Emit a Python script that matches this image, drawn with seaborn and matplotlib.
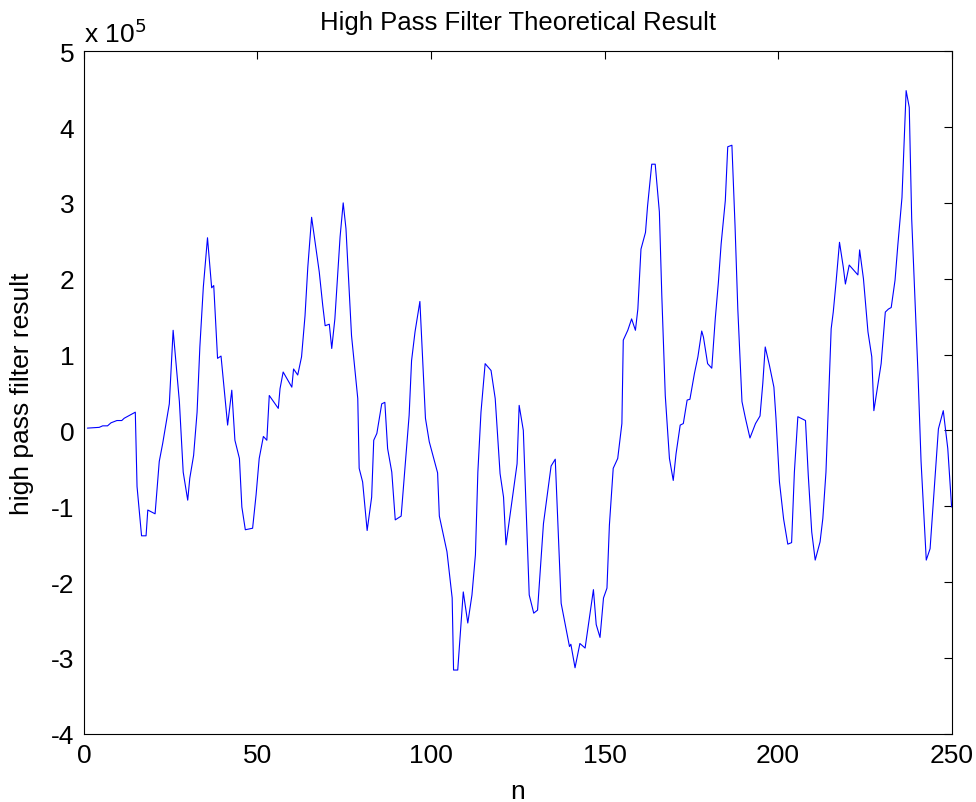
import seaborn as sns
import matplotlib.pyplot as plt
import pandas as pd
import numpy as np
from matplotlib.ticker import FuncFormatter

# sample index n and filter output (in units of 1e5)
n_vals = [1, 4.4, 5.4, 6.8, 7.8, 9.5, 10.9, 11.6, 14.8, 15.3,
          16.6, 17.9, 18.4, 20.5, 21.7, 22.7, 24.6, 25.7, 27.5, 28.6,
          29.9, 30.5, 31.6, 32.6, 33.4, 34.4, 35.6, 36.8, 37.4, 38.5,
          39.5, 41.4, 42.6, 43.5, 44.8, 45.5, 46.5, 48.6, 49.6, 50.5,
          51.7, 52.7, 53.4, 56.0, 56.5, 57.4, 59.9, 60.4, 61.6, 62.7,
          63.7, 64.5, 65.6, 67.8, 68.8, 69.5, 70.7, 71.4, 72.3, 73.8,
          74.7, 75.5, 77.1, 78.9, 79.3, 80.3, 81.6, 82.9, 83.5, 84.4,
          85.8, 86.7, 87.5, 88.7, 89.7, 91.4, 92.5, 93.7, 94.4, 95.4,
          96.8, 98.4, 99.5, 101.9, 102.4, 104.6, 106.1, 106.5, 107.7, 109.3,
          110.6, 111.8, 112.8, 113.5, 114.4, 115.6, 117.3, 118.5, 119.9, 120.9,
          121.6, 123.8, 124.8, 125.4, 126.6, 128.3, 129.6, 130.7, 132.4, 134.6,
          135.8, 137.5, 139.9, 140.3, 141.5, 142.9, 144.4, 146.8, 147.6, 148.7,
          149.7, 150.7, 151.4, 152.5, 153.8, 155.0, 155.4, 156.7, 157.8, 158.9,
          159.6, 160.5, 161.8, 162.4, 163.6, 164.6, 165.8, 166.5, 167.5, 168.7,
          169.8, 170.6, 171.8, 172.7, 173.8, 174.6, 175.9, 176.9, 178.0, 178.5,
          179.7, 180.9, 181.9, 182.8, 183.6, 184.8, 185.5, 186.7, 187.6, 188.4,
          189.6, 190.6, 191.9, 193.5, 194.8, 195.6, 196.3, 197.5, 198.8, 199.4,
          200.4, 201.6, 202.8, 203.9, 204.7, 205.7, 207.9, 208.7, 209.7, 210.7,
          212.1, 212.9, 213.8, 215.3, 215.9, 216.7, 217.7, 218.8, 219.4, 220.5,
          223.0, 223.5, 224.6, 225.9, 227.0, 227.6, 229.7, 230.9, 231.8, 232.6,
          233.7, 234.5, 235.7, 236.9, 237.8, 238.5, 240.3, 241.2, 242.7, 243.8,
          245.0, 246.2, 247.0, 247.6, 248.9, 250.0]
hp_vals = [0.03, 0.04, 0.06, 0.06, 0.10, 0.13, 0.13, 0.16, 0.24, -0.74,
           -1.39, -1.39, -1.05, -1.10, -0.41, -0.17, 0.35, 1.32, 0.38, -0.55,
           -0.92, -0.63, -0.33, 0.24, 1.10, 1.89, 2.54, 1.88, 1.91, 0.95,
           0.98, 0.07, 0.53, -0.13, -0.37, -1.01, -1.31, -1.29, -0.85, -0.37,
           -0.08, -0.13, 0.46, 0.29, 0.55, 0.77, 0.57, 0.81, 0.73, 0.97,
           1.51, 2.15, 2.81, 2.09, 1.65, 1.38, 1.40, 1.08, 1.47, 2.55,
           3.00, 2.66, 1.25, 0.42, -0.50, -0.68, -1.32, -0.88, -0.13, -0.04,
           0.35, 0.37, -0.24, -0.55, -1.18, -1.13, -0.50, 0.20, 0.92, 1.30,
           1.70, 0.16, -0.15, -0.56, -1.13, -1.60, -2.21, -3.16, -3.16, -2.13,
           -2.54, -2.17, -1.64, -0.55, 0.24, 0.88, 0.79, 0.42, -0.57, -0.88,
           -1.51, -0.77, -0.44, 0.33, 0.00, -2.17, -2.41, -2.37, -1.23, -0.47,
           -0.38, -2.28, -2.85, -2.82, -3.13, -2.81, -2.87, -2.10, -2.56, -2.73,
           -2.21, -2.08, -1.25, -0.50, -0.37, 0.09, 1.19, 1.32, 1.47, 1.32,
           1.60, 2.39, 2.61, 2.96, 3.51, 3.51, 2.88, 1.78, 0.46, -0.37,
           -0.66, -0.31, 0.07, 0.09, 0.40, 0.41, 0.75, 0.97, 1.31, 1.23,
           0.88, 0.82, 1.47, 1.95, 2.46, 3.03, 3.74, 3.76, 2.70, 1.60,
           0.38, 0.16, -0.10, 0.09, 0.19, 0.62, 1.10, 0.86, 0.57, 0.16,
           -0.68, -1.17, -1.50, -1.48, -0.55, 0.18, 0.13, -0.59, -1.34, -1.71,
           -1.47, -1.16, -0.55, 1.34, 1.56, 1.95, 2.48, 2.15, 1.93, 2.18,
           2.05, 2.38, 2.00, 1.30, 0.97, 0.26, 0.88, 1.56, 1.60, 1.62,
           1.98, 2.44, 3.07, 4.48, 4.26, 2.79, 0.77, -0.41, -1.71, -1.56,
           -0.77, 0.02, 0.16, 0.26, -0.24, -1.01]
scale = 1e5

df = pd.DataFrame({'n': n_vals, 'y': np.array(hp_vals) * scale})

sns.set_style('white')
plt.rcParams['font.family'] = ['Liberation Sans', 'DejaVu Sans']
plt.rcParams['text.color'] = 'black'
plt.rcParams['axes.labelcolor'] = 'black'
fs = 19

fig = plt.figure(figsize=(9.76, 8.03), dpi=100)
ax = fig.add_axes([0.086, 0.085, 0.889, 0.850])

sns.lineplot(data=df, x='n', y='y', sort=False, estimator=None,
             color='#0000ff', linewidth=0.8, ax=ax)

ax.set_xlim(0, 250)
ax.set_ylim(-4 * scale, 5 * scale)
ax.set_xticks(np.arange(0, 251, 50))
ax.set_yticks(np.arange(-4, 6, 1) * scale)
ax.yaxis.set_major_formatter(FuncFormatter(lambda v, p: f'{v / scale:g}'))

for s in ax.spines.values():
    s.set_visible(True)
    s.set_color('black')
    s.set_linewidth(0.8)
ax.tick_params(direction='in', length=6, width=0.8, top=True, right=True,
               labelsize=fs, pad=7, colors='black')

ax.set_title('High Pass Filter Theoretical Result', fontsize=fs - 0.5, pad=16,
             color='black')
ax.set_xlabel('n', fontsize=fs, labelpad=8)
ax.set_ylabel('high pass filter result', fontsize=fs, labelpad=12)
ax.text(0.0, 1.014, r'x 10$^{5}$', transform=ax.transAxes, fontsize=fs,
        ha='left', va='baseline')

plt.savefig('out.png', dpi=100)
